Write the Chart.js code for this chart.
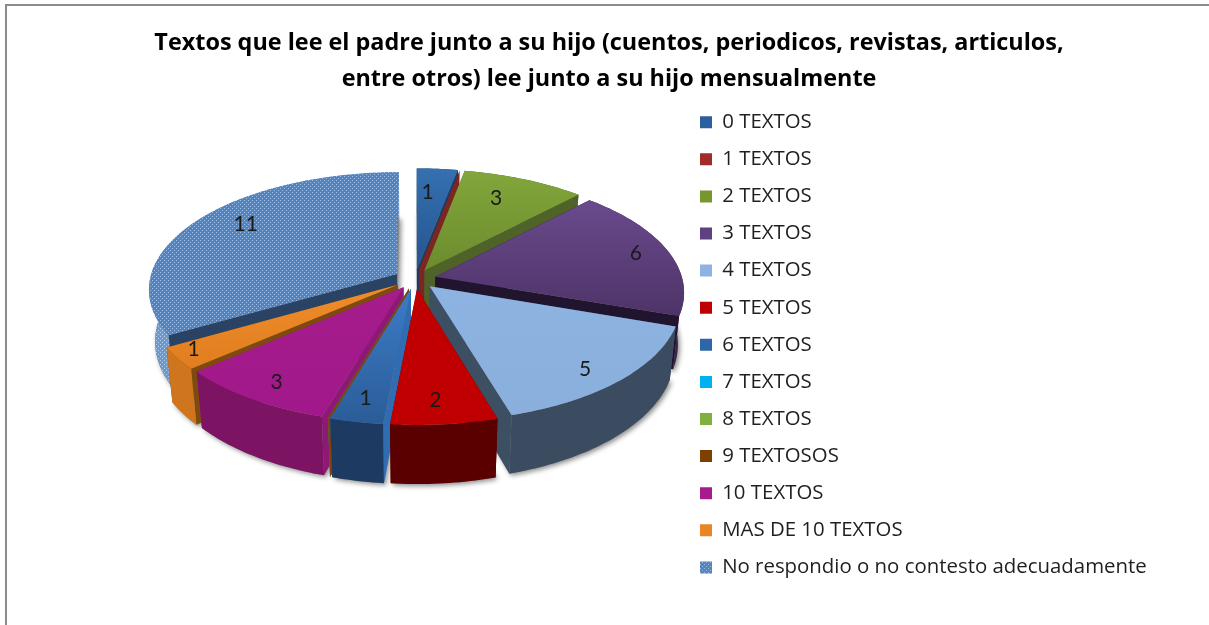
<!DOCTYPE html>
<html><head><meta charset="utf-8">
<style>html,body{margin:0;padding:0;background:#fff}canvas{display:block}</style>
<script src="https://cdn.jsdelivr.net/npm/chart.js@4/dist/chart.umd.js"></script>
</head><body>
<canvas id="c" width="1209" height="625"></canvas>
<script>
const titleLines = ['Textos que lee el padre junto a su hijo (cuentos, periodicos, revistas, articulos,', 'entre otros) lee junto a su hijo mensualmente'];
const categories = ['0 TEXTOS','1 TEXTOS','2 TEXTOS','3 TEXTOS','4 TEXTOS','5 TEXTOS','6 TEXTOS','7 TEXTOS','8 TEXTOS','9 TEXTOSOS','10 TEXTOS','MAS DE 10 TEXTOS','No respondio o no contesto adecuadamente'];
const values = [1,0,3,6,5,2,1,0,0,0,3,1,11];
const legendColors = ['#2c5f9e','#a02b2b','#76962f','#5f4080','#8db3e2','#c00000','#2f66a8','#00b0f0','#7fb040','#7f3f00','#a61c8c','#ea8526',null];
const topLight = ['#3570b0','#a02b2b','#82a63c','#6a4a8c','#8db3e2','#c00000','#3c7cc6','#00b0f0','#92d050','#7f3f00','#a61c8c','#f08c2a',null];
const topDark  = ['#255490','#8c2a2a','#6c8c2c','#4e3368','#8aafdc','#c00000','#2b5c98','#00b0f0','#92d050','#7f3f00','#a0188a','#e07e20',null];
const wallColors = ['#1d3c60','#7c2523','#4f6228','#3a2350','#3b4c60','#5a0000','#1c3a62','#007aa8','#5f8a30','#7f3f00','#7c1463','#cf751e',null];
const cutColors  = ['#1d3c60','#7c2523','#4f6228','#21142f','#3d4f63','#5a0000','#2f6cb2','#007aa8','#5f8a30','#7f4208','#8e1876','#7f4a10','#2a4364'];
const labelNudgeX = [-6,0,-10,14,6,-3,-3,0,0,0,-8,-31,10];
const labelNudgeY = [5,0,2,-2,9,6,6,0,0,0,8,7,-6];

function dotted(base, dot){
  const t=document.createElement('canvas');t.width=4;t.height=4;
  const g=t.getContext('2d');g.fillStyle=base;g.fillRect(0,0,4,4);
  g.fillStyle=dot;g.fillRect(0,0,1,1);g.fillRect(2,2,1,1);
  return g.createPattern(t,'repeat');
}
const ctx0=document.getElementById('c').getContext('2d');
const patTop=dotted('#5484c0','#9dbde3');
const patWall=dotted('#6c99cf','#b5cde9');
legendColors[12]=patTop;

const pie3d={
  id:'pie3d',
  afterLayout(chart){
    const l=chart.legend, h=l.bottom-l.top, w=l.right-l.left;
    l.left=683.3;l.right=683.3+w;l.top=95.3;l.bottom=95.3+h;
  },
  beforeDraw(chart){
    const c=chart.ctx;c.save();
    c.fillStyle='#fff';c.fillRect(0,0,chart.width,chart.height);
    c.fillStyle='#8c8c8c';
    c.fillRect(5,4,chart.width-5,2);
    c.fillRect(5,4,2,chart.height-4);
    c.restore();
  },
  beforeDatasetDraw(){return false;},
  afterDatasetsDraw(chart){
    const c=chart.ctx, arcs=chart.getDatasetMeta(0).data;
    const cx=415,cy=279,Rx=247,Ry=116,k=0.127,e=0.085,D=51,shr=0.977;
    const pt=(u,f,z)=>{
      const p=1/(1-k*f);
      let X=cx+Rx*u*p,Y=cy+Ry*f*p;
      if(z){X=cx+(X-cx)*shr;Y+=D*p;}
      return [X,Y];
    };
    const items=arcs.map((a,i)=>{
      const mid=(a.startAngle+a.endAngle)/2;
      const ou=e*Math.cos(mid),of=e*Math.sin(mid);
      const rim=[];
      const n=Math.max(1,Math.ceil((a.endAngle-a.startAngle)/0.02));
      for(let j=0;j<=n;j++){
        const t=a.startAngle+(a.endAngle-a.startAngle)*j/n;
        rim.push([ou+Math.cos(t),of+Math.sin(t)]);
      }
      return {i,a,mid,ou,of,rim,sf:Math.sin(mid),val:values[i]};
    });
    const poly=(pts,fill)=>{
      c.beginPath();
      pts.forEach((q,j)=>j?c.lineTo(q[0],q[1]):c.moveTo(q[0],q[1]));
      c.closePath();
      if(fill){c.fillStyle=fill;c.fill();}
    };
    const bottom=it=>[pt(it.ou,it.of,1),...it.rim.map(r=>pt(r[0],r[1],1))];
    const top=it=>[pt(it.ou,it.of,0),...it.rim.map(r=>pt(r[0],r[1],0))];
    c.save();
    c.shadowColor='rgba(0,0,0,0.45)';c.shadowBlur=5;c.shadowOffsetX=2;c.shadowOffsetY=2;
    items.forEach(it=>{if(it.val>0)poly(bottom(it),'#888');});
    c.shadowColor='transparent';c.shadowBlur=0;c.shadowOffsetX=0;c.shadowOffsetY=0;

    const cut=(it,r)=>{
      const A=pt(it.ou,it.of,0),B=pt(r[0],r[1],0),C=pt(r[0],r[1],1),E=pt(it.ou,it.of,1);
      poly([A,B,C,E],cutColors[it.i]);
    };
    const wall=it=>{
      const upper=it.rim.map(r=>pt(r[0],r[1],0));
      const lower=it.rim.map(r=>pt(r[0],r[1],1)).reverse();
      poly([...upper,...lower],it.i===12?patWall:wallColors[it.i]);
    };
    [...items].sort((p,q)=>p.sf-q.sf).forEach(it=>{
      const r0=it.rim[0],r1=it.rim[it.rim.length-1];
      if(it.val===0){cut(it,r0);return;}
      if(it.sf>0){cut(it,r1);cut(it,r0);wall(it);}
      else{wall(it);if(it.i!==12)cut(it,r1);cut(it,r0);}
      const pts=top(it);
      let fill=patTop;
      if(it.i!==12){
        const ys=pts.map(q=>q[1]);
        const g=c.createLinearGradient(0,Math.min(...ys),0,Math.max(...ys));
        g.addColorStop(0,topLight[it.i]);g.addColorStop(1,topDark[it.i]);
        fill=g;
      }
      poly(pts,fill);
    });
    c.fillStyle='#1a1a1a';c.font='21px Lato';c.textAlign='center';c.textBaseline='middle';
    items.forEach(it=>{
      if(it.val===0)return;
      const q=pt(it.ou+0.8*Math.cos(it.mid),it.of+0.8*Math.sin(it.mid),0);
      c.fillText(String(it.val),q[0]+labelNudgeX[it.i],q[1]+labelNudgeY[it.i]);
    });
    c.restore();
  }
};

new Chart(ctx0,{
  type:'pie',
  data:{labels:categories,datasets:[{data:values,backgroundColor:legendColors,borderWidth:0}]},
  plugins:[pie3d],
  options:{
    responsive:false,animation:false,
    layout:{padding:{top:25,right:0,bottom:20,left:9}},
    plugins:{
      tooltip:{enabled:false},
      title:{display:true,text:titleLines,color:'#000',font:{family:'Open Sans',size:23.4,weight:'bold',lineHeight:1.54},padding:{top:0,bottom:8}},
      legend:{position:'right',align:'start',
        labels:{boxWidth:12,boxHeight:12,padding:16.7,color:'#1f1f1f',font:{family:'Open Sans',size:20.4}}}
    }
  }
});
</script>
</body></html>
